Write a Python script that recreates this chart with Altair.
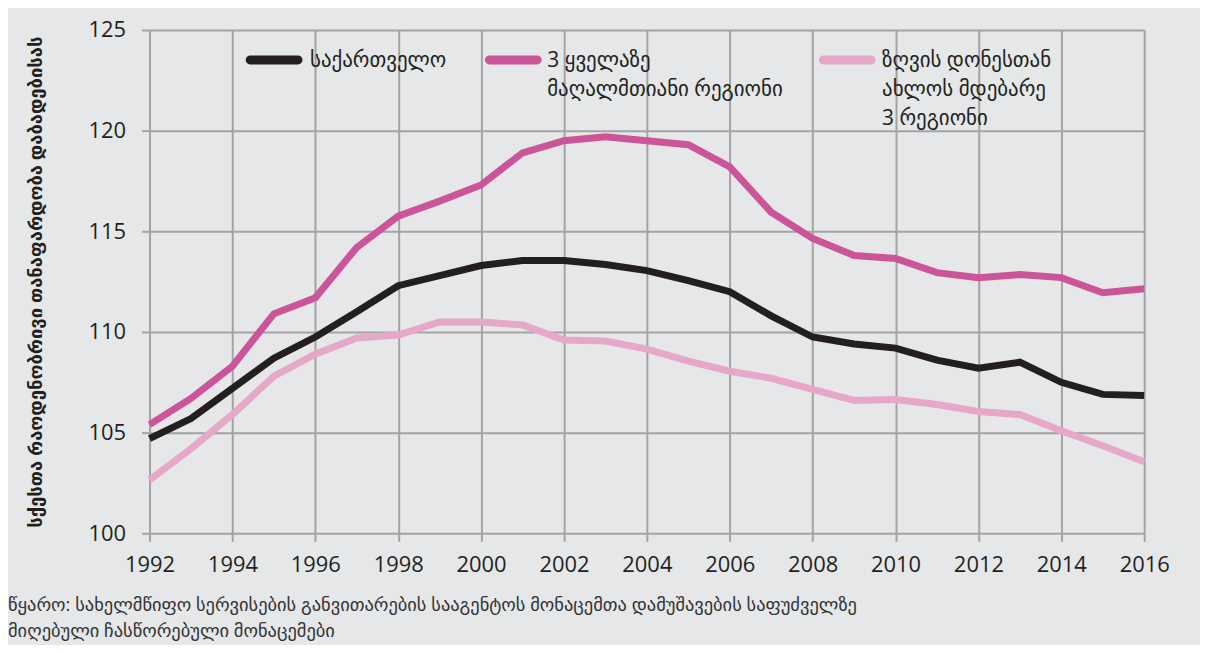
import altair as alt
import pandas as pd

years = list(range(1992, 2017))

georgia = [104.7, 105.7, 107.2, 108.7, 109.75, 111.0, 112.3, 112.8, 113.3, 113.55,
           113.55, 113.35, 113.05, 112.55, 112.0, 110.8, 109.75, 109.4, 109.2, 108.6,
           108.2, 108.5, 107.5, 106.9, 106.85]
highland = [105.4, 106.7, 108.3, 110.9, 111.7, 114.2, 115.75, 116.5, 117.3, 118.9,
            119.5, 119.7, 119.5, 119.3, 118.2, 115.95, 114.65, 113.8, 113.65, 112.95,
            112.7, 112.85, 112.7, 111.95, 112.15]
coastal = [102.65, 104.2, 105.9, 107.8, 108.9, 109.7, 109.85, 110.5, 110.5, 110.35,
           109.6, 109.55, 109.15, 108.55, 108.05, 107.7, 107.15, 106.6, 106.65, 106.4,
           106.05, 105.9, 105.1, 104.35, 103.55]

series_names = [
    "საქართველო",
    "3 ყველაზე მაღალმთიანი რეგიონი",
    "ზღვის დონესთან ახლოს მდებარე 3 რეგიონი",
]
legend_lines = [
    ["საქართველო"],
    ["3 ყველაზე", "მაღალმთიანი რეგიონი"],
    ["ზღვის დონესთან", "ახლოს მდებარე", "3 რეგიონი"],
]
series_colors = ["#231f20", "#cc5499", "#e5a8c8"]

y_title = "სქესთა რაოდენობრივი თანაფარდობა დაბადებისას"
source_lines = [
    "წყარო: სახელმწიფო სერვისების განვითარების სააგენტოს მონაცემთა დამუშავების საფუძველზე",
    "მიღებული ჩასწორებული მონაცემები",
]

rows = []
for name, vals in zip(series_names, [georgia, highland, coastal]):
    for yr, v in zip(years, vals):
        rows.append({"year": yr, "value": v, "series": name})
df = pd.DataFrame(rows)

FONT = "Open Sans, DejaVu Sans"
BG = "#e6e7e8"
GRID = "#a3a3a3"

lines = alt.Chart(df).mark_line(strokeWidth=7, strokeJoin="miter", clip=False).encode(
    x=alt.X("year:Q",
            scale=alt.Scale(domain=[1992, 2016], nice=False, zero=False),
            axis=alt.Axis(values=list(range(1992, 2017, 2)), format="d", title=None,
                          labelFontSize=22, labelColor="#231f20", labelFont=FONT,
                          labelFlush=False, labelOverlap=False, labelBound=False,
                          tickSize=8, tickColor=GRID, tickWidth=2,
                          labelPadding=13, grid=True, gridColor=GRID, gridWidth=2,
                          domain=False)),
    y=alt.Y("value:Q",
            scale=alt.Scale(domain=[100, 125], nice=False, zero=False),
            axis=alt.Axis(values=[100, 105, 110, 115, 120, 125], title=y_title,
                          titleFontSize=18.5, titleFontWeight="bold", titleFont=FONT,
                          titleColor="#231f20", titlePadding=43,
                          labelFontSize=22, labelColor="#231f20", labelFont=FONT,
                          labelFlush=False,
                          tickSize=8, tickColor=GRID, tickWidth=2, labelPadding=16,
                          grid=True, gridColor=GRID, gridWidth=2, domain=False)),
    color=alt.Color("series:N",
                    scale=alt.Scale(domain=series_names, range=series_colors),
                    legend=None),
)

# manual legend (layout positions in pixels relative to plot area)
leg_sym_x = [97, 337, 672]
leg_sym_len = 56
leg_txt_x = [161, 399, 735]
leg_y = 30
one = pd.DataFrame({"t": [0]})
legend_layers = []
for i in range(3):
    legend_layers.append(
        alt.Chart(one).mark_rule(strokeWidth=9, strokeCap="round",
                                 color=series_colors[i]).encode(
            x=alt.value(leg_sym_x[i] + 4), x2=alt.value(leg_sym_x[i] + leg_sym_len - 4),
            y=alt.value(leg_y))
    )
    legend_layers.append(
        alt.Chart(one).mark_text(align="left", baseline="alphabetic", fontSize=21,
                                 font=FONT, color="#231f20", lineHeight=29).encode(
            x=alt.value(leg_txt_x[i]), y=alt.value(leg_y + 7),
            text=alt.value(legend_lines[i]))
    )

source = alt.Chart(one).mark_text(
    align="left", baseline="middle", fontSize=18.5, font=FONT, color="#333333",
    lineHeight=26,
).encode(
    x=alt.value(-142),
    y=alt.value(577),
    text=alt.value(source_lines),
)

chart = alt.layer(lines, *legend_layers, source).properties(
    width=998, height=505,
    background=BG,
    padding={"left": 0, "top": 10, "right": 30, "bottom": 3},
).configure_view(stroke=None, fill=BG)

chart.save("out.html", embed_options={"renderer": "svg", "actions": False})
